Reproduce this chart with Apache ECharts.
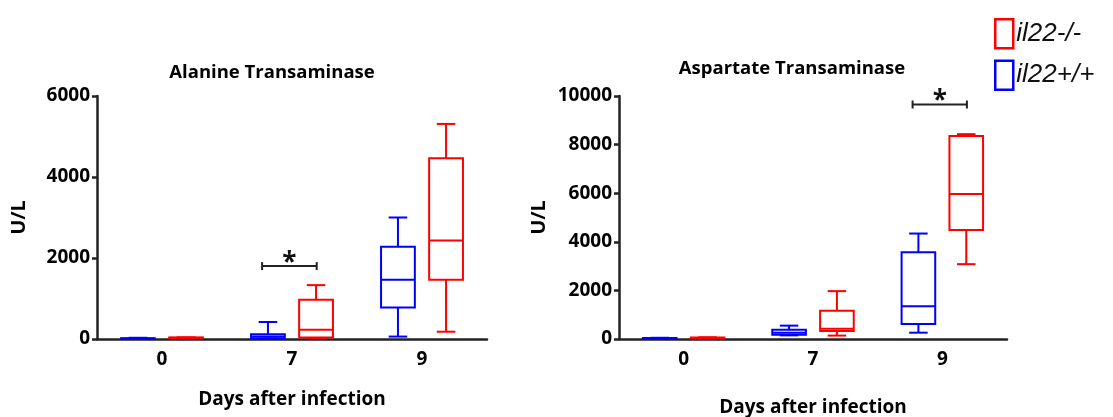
<!DOCTYPE html>
<html>
<head>
<meta charset="utf-8">
<script src="https://cdn.jsdelivr.net/npm/echarts@6/dist/echarts.min.js"></script>
<style>
  html, body { margin: 0; padding: 0; background: #fff; }
  #main { width: 1113px; height: 417px; }
</style>
</head>
<body>
<div id="main"></div>
<script>
// days on the x axis
const days = ['0', '7', '9'];
const yTicksALT = [0, 2000, 4000, 6000];
const yTicksAST = [0, 2000, 4000, 6000, 8000, 10000];

// box stats per day: [min, q1, median, q3, max]
const altKO = [[20, 25, 30, 35, 40], [25, 40, 230, 970, 1330], [180, 1460, 2430, 4460, 5310]];
const altWT = [[5, 10, 15, 20, 30], [10, 20, 60, 120, 420], [60, 780, 1460, 2280, 3000]];
const astKO = [[20, 30, 45, 60, 70], [140, 330, 420, 1160, 1970], [3080, 4490, 5970, 8350, 8430]];
const astWT = [[10, 20, 30, 40, 50], [150, 170, 260, 380, 550], [260, 620, 1350, 3570, 4340]];

// significance bars: [day index, height]
const altSig = [[1, 1800]];
const astSig = [[2, 9650]];

const RED = '#ff0000';
const BLUE = '#0000ff';
const FONT = 'Open Sans';

const chart = echarts.init(document.getElementById('main'));

function boxData(arr) {
  return arr.map((d, i) => [i].concat(d));
}

// draws a box with whiskers, shifted left or right inside the category band
function makeBox(side, color) {
  return function (params, api) {
    const i = api.value(0);
    const band = api.size([1, 0])[0];
    const cx = api.coord([i, 0])[0] + side * band * 0.185;
    const w = band * 0.26;
    const cap = w * 0.55;
    const yMin = api.coord([i, api.value(1)])[1];
    const yQ1 = api.coord([i, api.value(2)])[1];
    const yMed = api.coord([i, api.value(3)])[1];
    const yQ3 = api.coord([i, api.value(4)])[1];
    const yMax = api.coord([i, api.value(5)])[1];
    const st = { stroke: color, lineWidth: 2, fill: null };
    return {
      type: 'group',
      children: [
        { type: 'line', shape: { x1: cx, y1: yQ3, x2: cx, y2: yMax }, style: st },
        { type: 'line', shape: { x1: cx, y1: yQ1, x2: cx, y2: yMin }, style: st },
        { type: 'line', shape: { x1: cx - cap / 2, y1: yMax, x2: cx + cap / 2, y2: yMax }, style: st },
        { type: 'line', shape: { x1: cx - cap / 2, y1: yMin, x2: cx + cap / 2, y2: yMin }, style: st },
        { type: 'rect', shape: { x: cx - w / 2, y: yQ3, width: w, height: yQ1 - yQ3 }, style: st },
        { type: 'line', shape: { x1: cx - w / 2, y1: yMed, x2: cx + w / 2, y2: yMed }, style: st }
      ]
    };
  };
}

// significance bracket with a star above it
function renderSig(params, api) {
  const i = api.value(0);
  const band = api.size([1, 0])[0];
  const c = api.coord([i, api.value(1)]);
  const x1 = c[0] - band * 0.23;
  const x2 = c[0] + band * 0.19;
  const y = c[1];
  const st = { stroke: '#222', lineWidth: 2 };
  return {
    type: 'group',
    children: [
      { type: 'line', shape: { x1: x1, y1: y, x2: x2, y2: y }, style: st },
      { type: 'line', shape: { x1: x1, y1: y - 4, x2: x1, y2: y + 4 }, style: st },
      { type: 'line', shape: { x1: x2, y1: y - 4, x2: x2, y2: y + 4 }, style: st },
      { type: 'text', x: (x1 + x2) / 2, y: y + 10,
        style: { text: '*', fill: '#111', font: 'bold 26px ' + FONT, align: 'center', verticalAlign: 'bottom' } }
    ]
  };
}

function xAxis(gridIndex) {
  return {
    type: 'category', gridIndex: gridIndex, data: days,
    name: 'Days after infection', nameLocation: 'middle',
    nameGap: gridIndex === 0 ? 51 : 59,
    nameTextStyle: { color: '#000', fontWeight: 'bold', fontSize: 19, fontFamily: FONT },
    axisLine: { lineStyle: { color: '#222', width: 2.5 } },
    axisTick: { alignWithLabel: true, length: 6, lineStyle: { color: '#222', width: 2.5 } },
    axisLabel: { color: '#000', fontWeight: 'bold', fontSize: 19, fontFamily: FONT, margin: 11 }
  };
}

function yAxis(gridIndex, ticks) {
  return {
    type: 'value', gridIndex: gridIndex,
    min: ticks[0], max: ticks[ticks.length - 1], interval: ticks[1] - ticks[0],
    name: 'U/L', nameLocation: 'middle', nameRotate: 90,
    nameGap: gridIndex === 0 ? 68 : 70,
    nameTextStyle: { color: '#000', fontWeight: 'bold', fontSize: 20, fontFamily: FONT },
    axisLine: { show: true, lineStyle: { color: '#222', width: 2.5 } },
    axisTick: { show: true, length: 5, lineStyle: { color: '#222', width: 2.5 } },
    axisLabel: { color: '#000', fontWeight: 'bold', fontSize: 19, fontFamily: FONT, margin: 7,
      formatter: v => String(v) },
    splitLine: { show: false }
  };
}

chart.setOption({
  animation: false,
  backgroundColor: '#fff',
  title: [
    { text: 'Alanine Transaminase', left: 267, top: 58, textAlign: 'center',
      textStyle: { fontSize: 18.5, fontWeight: 'bold', fontFamily: FONT, color: '#000' } },
    { text: 'Aspartate Transaminase', left: 787, top: 54, textAlign: 'center',
      textStyle: { fontSize: 18.5, fontWeight: 'bold', fontFamily: FONT, color: '#000' } }
  ],
  legend: {
    orient: 'vertical', left: 989, top: 13,
    itemWidth: 18, itemHeight: 29, itemGap: 10,
    textStyle: { fontSize: 26, fontStyle: 'italic', fontFamily: 'Liberation Sans', color: '#111', padding: [0, 0, 0, -2] },
    data: [
      { name: 'il22-/-', icon: 'rect', itemStyle: { color: 'transparent', borderColor: RED, borderWidth: 2.5 } },
      { name: 'il22+/+', icon: 'rect', itemStyle: { color: 'transparent', borderColor: BLUE, borderWidth: 2.5 } }
    ]
  },
  grid: [
    { left: 97, top: 96, width: 390, height: 243, outerBoundsMode: 'none', containLabel: false },
    { left: 619, top: 96, width: 388, height: 243, outerBoundsMode: 'none', containLabel: false }
  ],
  xAxis: [xAxis(0), xAxis(1)],
  yAxis: [yAxis(0, yTicksALT), yAxis(1, yTicksAST)],
  series: [
    { name: 'il22+/+', type: 'custom', xAxisIndex: 0, yAxisIndex: 0, renderItem: makeBox(-1, BLUE),
      itemStyle: { color: BLUE }, encode: { x: 0, y: [1, 2, 3, 4, 5] }, data: boxData(altWT) },
    { name: 'il22-/-', type: 'custom', xAxisIndex: 0, yAxisIndex: 0, renderItem: makeBox(1, RED),
      itemStyle: { color: RED }, encode: { x: 0, y: [1, 2, 3, 4, 5] }, data: boxData(altKO) },
    { name: 'il22+/+', type: 'custom', xAxisIndex: 1, yAxisIndex: 1, renderItem: makeBox(-1, BLUE),
      itemStyle: { color: BLUE }, encode: { x: 0, y: [1, 2, 3, 4, 5] }, data: boxData(astWT) },
    { name: 'il22-/-', type: 'custom', xAxisIndex: 1, yAxisIndex: 1, renderItem: makeBox(1, RED),
      itemStyle: { color: RED }, encode: { x: 0, y: [1, 2, 3, 4, 5] }, data: boxData(astKO) },
    { type: 'custom', xAxisIndex: 0, yAxisIndex: 0, renderItem: renderSig,
      encode: { x: 0, y: 1 }, data: altSig },
    { type: 'custom', xAxisIndex: 1, yAxisIndex: 1, renderItem: renderSig,
      encode: { x: 0, y: 1 }, data: astSig }
  ]
});
</script>
</body>
</html>
